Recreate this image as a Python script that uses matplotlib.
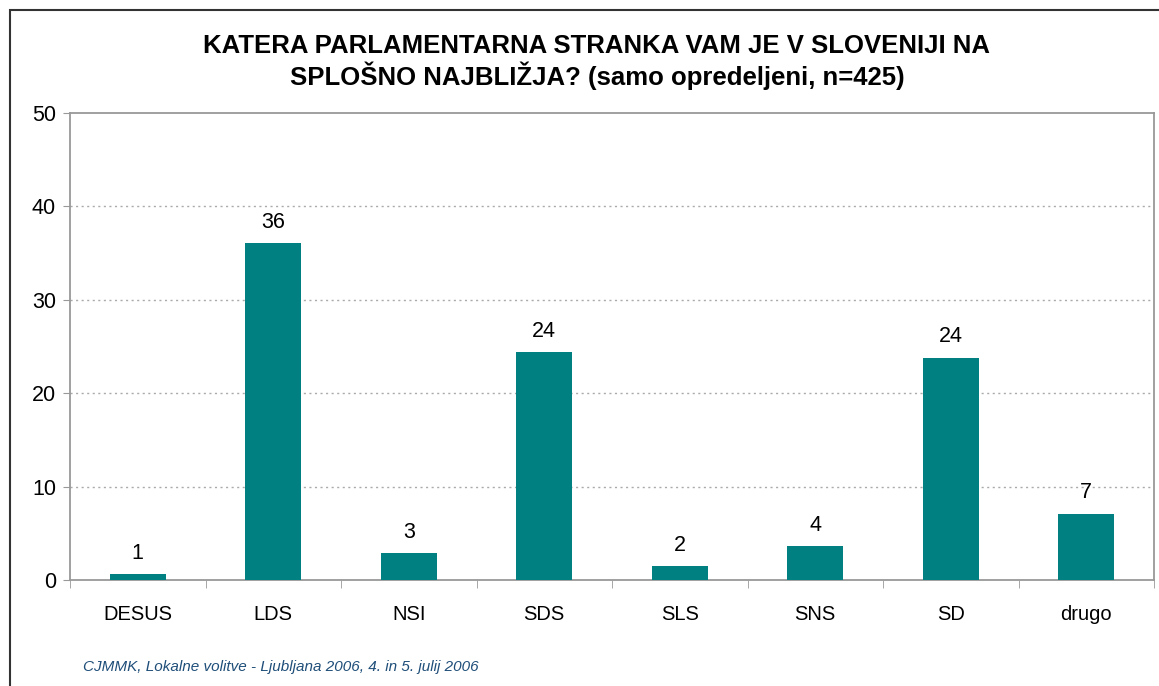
import matplotlib.pyplot as plt
import numpy as np
from matplotlib.patches import Rectangle

# Data
parties = ['DESUS', 'LDS', 'NSI', 'SDS', 'SLS', 'SNS', 'SD', 'drugo']
shares = [0.6, 36.1, 2.9, 24.4, 1.5, 3.6, 23.8, 7.1]
labels = ['1', '36', '3', '24', '2', '4', '24', '7']
y_ticks = [0, 10, 20, 30, 40, 50]

title = ('KATERA PARLAMENTARNA STRANKA VAM JE V SLOVENIJI NA\n'
         'SPLOŠNO NAJBLIŽJA? (samo opredeljeni, n=425)')
source = 'CJMMK, Lokalne volitve - Ljubljana 2006, 4. in 5. julij 2006'

plt.rcParams['font.family'] = ['Liberation Sans', 'DejaVu Sans']

fig = plt.figure(figsize=(11.59, 6.86), dpi=100)
ax = fig.add_axes([0.0604, 0.1545, 0.9353, 0.6808])

# outer chart frame (cropped at right and bottom, like the reference)
fig.patches.append(Rectangle((10 / 1159, -0.05), 1.2, 1 - 10 / 686 + 0.05,
                             transform=fig.transFigure, fill=False,
                             edgecolor='#333333', linewidth=1.5))

x = np.arange(len(parties))
ax.bar(x, shares, width=0.41, color='#008080', zorder=3)

for xi, val, lab in zip(x, shares, labels):
    ax.text(xi, val + 1.1, lab, ha='center', va='bottom', fontsize=15.5)

ax.set_xlim(-0.5, len(parties) - 0.5)
ax.set_ylim(0, 50)
ax.set_yticks(y_ticks)
ax.tick_params(axis='y', labelsize=15.5, length=5, color='#999999', pad=5)
ax.set_xticks(x)
ax.set_xticklabels(parties, fontsize=14.5)
ax.tick_params(axis='x', length=0, pad=18)
ax.set_xticks(np.arange(-0.5, len(parties)), minor=True)
ax.tick_params(axis='x', which='minor', length=6, color='#999999')

for yv in y_ticks[1:-1]:
    ax.axhline(yv, color='#aaaaaa', linestyle=(0, (1.5, 2.5)), linewidth=1, zorder=1)

for side in ['left', 'right', 'top', 'bottom']:
    ax.spines[side].set_color('#999999')
    ax.spines[side].set_linewidth(1.3)

fig.text(0.515, 1 - 62 / 686, title, ha='center', va='center', fontsize=18.5,
         fontweight='bold', linespacing=1.18)
fig.text(83 / 1159, 1 - 667 / 686, source, ha='left', va='center',
         fontsize=11, style='italic', color='#1f4e79')

fig.savefig('out.png', dpi=100)
